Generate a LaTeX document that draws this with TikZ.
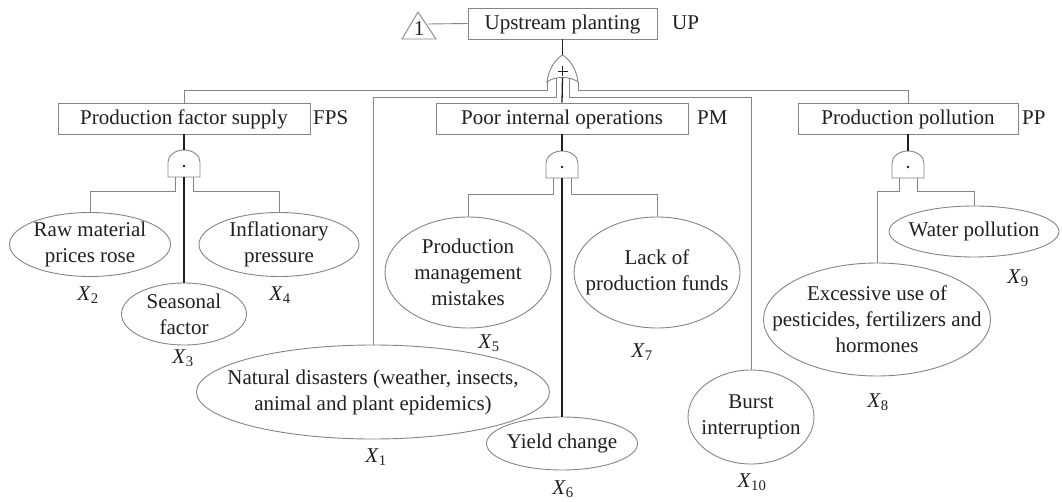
\documentclass[tikz,border=0pt]{standalone}
\usepackage{fontspec}
\setmainfont{Liberation Serif}
\usetikzlibrary{shapes.geometric}
\definecolor{edge}{HTML}{858585}
\definecolor{ink}{HTML}{231F20}
\newcommand\xsub[1]{\textit{X}\textsubscript{#1}}
\tikzset{
  box/.style={draw=edge, line width=0.9pt, fill=white, minimum height=31,
    inner sep=0pt, text height=14pt, text depth=1pt},
  ev/.style={ellipse, draw=edge, line width=0.9pt, fill=white, inner sep=0pt},
  etxt/.style={align=center, inner sep=0pt},
  tag/.style={anchor=west, inner sep=0pt, text height=14pt, text depth=1pt},
  xlab/.style={inner sep=0pt},
  wire/.style={draw=edge, line width=0.9pt},
  trunk/.style={draw=ink, line width=1.3pt},
  gate/.style={draw=edge, line width=0.9pt, fill=white},
  pics/andgate/.style={code={
    \draw[gate] (-16,27) -- (-16,12) .. controls (-16,5.4) and (-8.8,0) .. (0,0)
      .. controls (8.8,0) and (16,5.4) .. (16,12) -- (16,27) -- cycle;
    \fill[ink] (0,16) circle[radius=1.3pt];
    \coordinate (-top) at (0,0);
    \coordinate (-in) at (0,27);
    \coordinate (-l) at (-9,27);
    \coordinate (-r) at (9,27);
  }},
  pics/orgate/.style={code={
    \draw[gate] (-15.5,27) .. controls (-14,14) and (-7,4) .. (0,0)
      .. controls (7,4) and (14,14) .. (15.5,27)
      .. controls (8,21) and (-8,21) .. (-15.5,27) -- cycle;
    \draw[ink, line width=0.8pt] (-5,16) -- (5,16) (0,11) -- (0,21);
    \coordinate (-top) at (0,0);
    \coordinate (-in) at (0,22.5);
    \coordinate (-ol) at (-15.5,27);
    \coordinate (-or) at (15.5,27);
    \coordinate (-il) at (-6.5,23.5);
    \coordinate (-ir) at (6.5,23.5);
  }}
}
\begin{document}
\begin{tikzpicture}[x=1pt, y=-1pt, font=\fontsize{21}{26}\selectfont, color=ink]
\useasboundingbox (0,0) rectangle (1062,502);

% transfer symbol and top event
\draw[wire] (402,39) -- (418,12) -- (436,39) -- cycle;
\node[inner sep=0pt] (one) at (419,29) {1};
\coordinate (tr) at (428,24);
\node[box, minimum width=189] (up) at (562.5,23.5) {Upstream planting};
\node[tag] (uptag) at (672,23.5) {UP};
\draw[wire] (tr) -- (up.west);

% intermediate events
\node[box, minimum width=252] (fps) at (184,118.5) {Production factor supply};
\node[tag] (fpstag) at (313,118.5) {FPS};
\node[box, minimum width=252] (pm) at (562,118.5) {Poor internal operations};
\node[tag] (pmtag) at (697,118.5) {PM};
\node[box, minimum width=220] (pp) at (908,118.5) {Production pollution};
\node[tag] (pptag) at (1022,118.5) {PP};

% gates
\pic (g0) at (562.5,55) {orgate};
\pic (g1) at (184,150) {andgate};
\pic (g2) at (562,151) {andgate};
\pic (g3) at (908,151) {andgate};

% basic events
\node[ev, minimum width=161, minimum height=64,
  label={[etxt]center:{Raw material\\prices rose}}] (raw) at (90,244.5) {};
\node[ev, minimum width=125, minimum height=62,
  label={[etxt]center:{Seasonal\\factor}}] (seas) at (184,314) {};
\node[ev, minimum width=160, minimum height=64,
  label={[etxt]center:{Inflationary\\pressure}}] (infl) at (279,244.5) {};
\node[ev, minimum width=166, minimum height=111,
  label={[etxt]center:{Production\\management\\mistakes}}] (pmm) at (468,272.5) {};
\node[ev, minimum width=166, minimum height=111,
  label={[etxt]center:{Lack of\\production funds}}] (lack) at (657,272.5) {};
\node[ev, minimum width=353, minimum height=94,
  label={[etxt]center:{Natural disasters (weather, insects,\\animal and plant epidemics)}}] (nat) at (373,392) {};
\node[ev, minimum width=151, minimum height=53,
  label={[etxt]center:{Yield change}}] (yield) at (562,443.5) {};
\node[ev, minimum width=126, minimum height=94,
  label={[etxt]center:{Burst\\interruption}}] (burst) at (751,417) {};
\node[ev, minimum width=227, minimum height=113,
  label={[etxt]center:{Excessive use of\\pesticides, fertilizers and\\hormones}}] (exc) at (877,319.5) {};
\node[ev, minimum width=170, minimum height=51,
  label={[etxt]center:{Water pollution}}] (water) at (974,231.5) {};

% event identifiers
\node[xlab] (x1) at (376,457) {\xsub{1}};
\node[xlab] (x2) at (88,295) {\xsub{2}};
\node[xlab] (x3) at (183,358) {\xsub{3}};
\node[xlab] (x4) at (280,295) {\xsub{4}};
\node[xlab] (x5) at (489,343) {\xsub{5}};
\node[xlab] (x6) at (563,489) {\xsub{6}};
\node[xlab] (x7) at (642,352) {\xsub{7}};
\node[xlab] (x8) at (878,402) {\xsub{8}};
\node[xlab] (x9) at (1018,278) {\xsub{9}};
\node[xlab] (x10) at (752,482) {\xsub{10}};

% OR gate under the top event
\draw[trunk] (up.south) -- (g0-top);
\draw[trunk] (g0-in) -- (pm.north);
\draw[wire] (g0-ol) -- ++(0,8) -| (fps.north);
\draw[wire] (g0-il) -- ++(0,18.5) -| (nat.north);
\draw[wire] (g0-or) -- ++(0,8) -| (pp.north);
\draw[wire] (g0-ir) -- ++(0,18.5) -| (burst.north);

% production factor supply
\draw[trunk] (fps.south) -- (g1-top);
\draw[trunk] (g1-in) -- (seas.north);
\draw[wire] (g1-l) -- ++(0,14) -| (raw.north);
\draw[wire] (g1-r) -- ++(0,14) -| (infl.north);

% poor internal operations
\draw[trunk] (pm.south) -- (g2-top);
\draw[trunk] (g2-in) -- (yield.north);
\draw[wire] (g2-l) -- ++(0,16) -| (pmm.north);
\draw[wire] (g2-r) -- ++(0,16) -| (lack.north);

% production pollution
\draw[trunk] (pp.south) -- (g3-top);
\draw[wire] (g3-l) -- ++(0,13) -| (exc.north);
\draw[wire] (g3-r) -- ++(0,13) -| (water.north);
\end{tikzpicture}
\end{document}
